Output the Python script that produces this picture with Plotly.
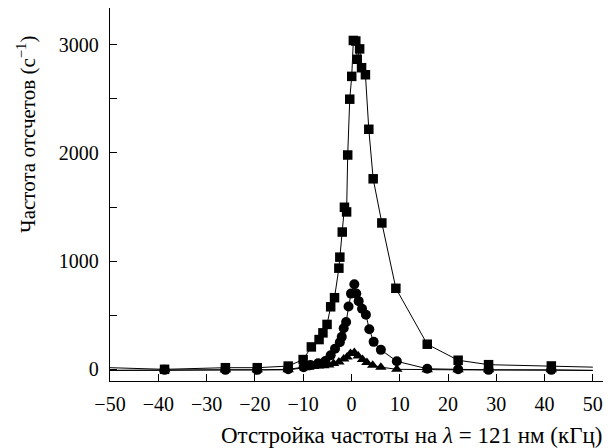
import plotly.graph_objects as go

# Data (detuning in kHz, count rate in s^-1)
sq_x = [-50, -38.7, -26.1, -19.5, -13.1, -10.0, -8.3, -6.7, -5.9, -5.05, -4.3, -3.5, -2.6, -2.4,
        -1.9, -1.45, -1.0, -0.77, -0.35, 0.06, 0.4, 0.9, 1.2, 1.7, 2.1, 2.9, 3.6, 4.5, 6.3, 9.2,
        15.7, 22.1, 28.4, 41.4, 50]
sq_y = [15, 0, 15, 15, 30, 90, 207, 275, 337, 415, 578, 662, 935, 1037,
        1269, 1498, 1455, 1981, 2497, 2708, 3040, 3035, 2866, 2962, 2788, 2723, 2219, 1761, 1353, 749,
        232, 84, 43, 31, 20]

ci_x = [-50, -38.7, -26.1, -19.5, -13.1, -9.9, -8.5, -6.9, -5.4, -4.3, -3.4, -2.4, -2.0, -1.6,
        -1.1, -0.6, -0.1, 0.6, 1.0, 1.5, 2.2, 3.0, 3.7, 4.6, 6.1, 9.4, 15.7, 22.1, 28.4, 41.4, 50]
ci_y = [-10, -5, -5, -5, 0, 20, 40, 55, 77, 130, 190, 250, 300, 380,
        438, 580, 700, 786, 700, 630, 560, 505, 370, 254, 180, 74, 5, 0, -5, -5, -10]

tr_x = [-50, -38.7, -26.1, -19.5, -13.1, -9.6, -8.8, -7.8, -6.8, -5.7, -4.7, -3.7, -2.6, -1.6,
        -0.9, -0.2, 0.6, 1.4, 2.3, 3.2, 4.4, 6.1, 9.4, 15.7, 22.1, 28.4, 41.4, 50]
tr_y = [-10, -5, -5, -5, -5, 15, 20, 25, 30, 33, 40, 53, 68, 96,
        114, 146, 155, 124, 90, 62, 37, 20, 0, -5, -5, -5, -5, -10]

x_ticks = list(range(-50, 51, 10))
y_ticks = list(range(0, 3001, 500))
y_labels = ["0", "", "1000", "", "2000", "", "3000"]


def fmt(v):
    return ("\u2212" + str(abs(v))) if v < 0 else str(v)


def sizes(xs, s):
    return [0 if abs(x) >= 50 else s for x in xs]


fig = go.Figure()
fig.add_trace(go.Scatter(x=tr_x, y=tr_y, mode="lines+markers",
                         line=dict(color="black", width=1),
                         marker=dict(symbol="triangle-up", color="black", opacity=1,
                                     line=dict(width=0), size=sizes(tr_x, 10))))
fig.add_trace(go.Scatter(x=ci_x, y=ci_y, mode="lines+markers",
                         line=dict(color="black", width=1),
                         marker=dict(symbol="circle", color="black", opacity=1,
                                     line=dict(width=0), size=sizes(ci_x, 10))))
fig.add_trace(go.Scatter(x=sq_x, y=sq_y, mode="lines+markers",
                         line=dict(color="black", width=1),
                         marker=dict(symbol="square", color="black", opacity=1,
                                     line=dict(width=0), size=sizes(sq_x, 9.5))))

font = "Liberation Serif, Times New Roman, serif"
fig.update_layout(
    width=613, height=448,
    margin=dict(l=110, r=10, t=8, b=67),
    paper_bgcolor="white", plot_bgcolor="white",
    showlegend=False,
    font=dict(family=font, size=20, color="black"),
    xaxis=dict(range=[-50, 52.1], showline=True, linecolor="black", linewidth=1.3,
               showgrid=False, zeroline=False, ticks="inside", ticklen=7, tickwidth=1.2,
               tickcolor="black", tickvals=x_ticks, ticktext=[fmt(v) for v in x_ticks],
               ticklabelstandoff=5),
    yaxis=dict(range=[-108, 3340], showline=True, linecolor="black", linewidth=1.3,
               showgrid=False, zeroline=False, ticks="inside", ticklen=7, tickwidth=1.2,
               tickcolor="black", tickvals=y_ticks, ticktext=y_labels,
               ticklabelstandoff=6),
    annotations=[
        dict(text="Отстройка частоты на <i>λ</i> = 121 нм (кГц)", xref="paper", yref="paper",
             x=1.003, y=-0.145, xanchor="right", yanchor="middle", showarrow=False,
             font=dict(family=font, size=23)),
        dict(text="Частота отсчетов (с<sup>−1</sup>)", xref="paper", yref="paper",
             x=-0.168, y=0.66, xanchor="center", yanchor="middle", textangle=-90, showarrow=False,
             font=dict(family=font, size=21)),
    ],
)

fig.write_html("out.html")
